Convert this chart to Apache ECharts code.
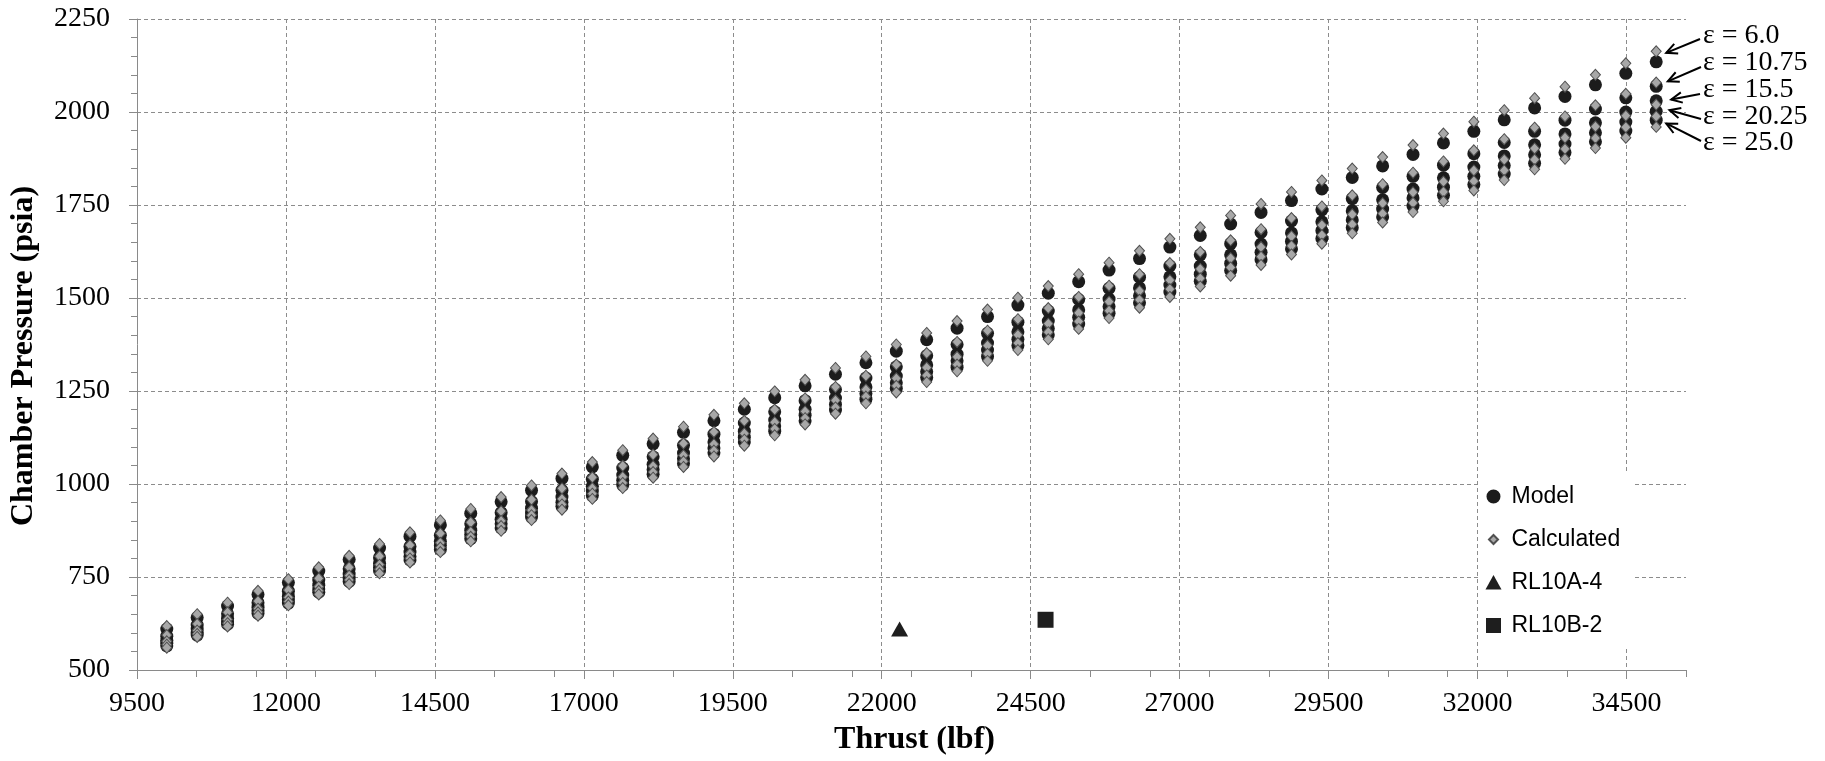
<!DOCTYPE html>
<html><head><meta charset="utf-8">
<script src="https://cdn.jsdelivr.net/npm/echarts@6/dist/echarts.min.js"></script>
<style>html,body{margin:0;padding:0;background:#fff}#c{width:1825px;height:761px}</style>
</head><body><div id="c"></div>
<script>
// Thrust (lbf) of each column of points
const thrust = [10000,10510,11020,11531,12041,12551,13061,13571,14082,14592,15102,15612,16122,16633,17143,17653,18163,18673,19184,19694,20204,20714,21224,21735,22245,22755,23265,23776,24286,24796,25306,25816,26327,26837,27347,27857,28367,28878,29388,29898,30408,30918,31429,31939,32449,32959,33469,33980,34490,35000];

// Model chamber pressure (psia), one array per expansion ratio
const model6  = [610,641,672,703,735,766,797,828,859,890,921,952,983,1015,1046,1077,1108,1139,1170,1201,1232,1264,1295,1326,1357,1388,1419,1450,1481,1513,1544,1575,1606,1637,1668,1699,1730,1762,1793,1824,1855,1886,1917,1948,1979,2011,2042,2073,2104,2135];
const model10 = [591,621,651,681,712,742,772,802,832,862,893,923,953,983,1013,1043,1073,1104,1134,1164,1194,1224,1254,1285,1315,1345,1375,1405,1435,1465,1496,1526,1556,1586,1616,1646,1676,1707,1737,1767,1797,1827,1857,1888,1918,1948,1978,2008,2038,2069];
const model15 = [580,610,639,669,698,728,758,787,817,846,876,905,935,965,994,1024,1053,1083,1113,1142,1172,1201,1231,1261,1290,1320,1349,1379,1409,1438,1468,1497,1527,1557,1586,1616,1645,1675,1705,1734,1764,1793,1823,1852,1882,1912,1941,1971,2000,2030];
const model20 = [572,601,630,660,689,718,747,776,805,835,864,893,922,951,981,1010,1039,1068,1097,1126,1156,1185,1214,1243,1272,1302,1331,1360,1389,1418,1448,1477,1506,1535,1564,1593,1623,1652,1681,1710,1739,1769,1798,1827,1856,1885,1914,1944,1973,2002];
const model25 = [565,594,623,652,680,709,738,767,796,824,853,882,911,940,969,997,1026,1055,1084,1113,1142,1170,1199,1228,1257,1286,1314,1343,1372,1401,1430,1459,1487,1516,1545,1574,1603,1632,1660,1689,1718,1747,1776,1805,1833,1862,1891,1920,1949,1978];

// Calculated chamber pressure (psia), one array per expansion ratio
const calc6  = [618,650,681,713,744,776,807,839,870,902,933,965,996,1028,1059,1091,1122,1154,1186,1217,1249,1280,1312,1343,1375,1406,1438,1469,1501,1532,1564,1595,1627,1659,1690,1722,1753,1785,1816,1848,1879,1911,1942,1974,2005,2037,2068,2100,2131,2163];
const calc10 = [594,624,655,685,715,746,776,806,836,867,897,927,958,988,1018,1049,1079,1109,1140,1170,1200,1230,1261,1291,1321,1352,1382,1412,1443,1473,1503,1533,1564,1594,1624,1655,1685,1715,1746,1776,1806,1837,1867,1897,1927,1958,1988,2018,2049,2079];
const calc15 = [577,606,636,665,695,724,754,783,813,842,871,901,930,960,989,1019,1048,1077,1107,1136,1166,1195,1225,1254,1284,1313,1342,1372,1401,1431,1460,1490,1519,1548,1578,1607,1637,1666,1696,1725,1755,1784,1813,1843,1872,1902,1931,1961,1990,2020];
const calc20 = [568,597,626,655,684,713,742,771,800,829,858,887,916,945,974,1003,1032,1061,1090,1119,1148,1177,1206,1235,1264,1292,1321,1350,1379,1408,1437,1466,1495,1524,1553,1582,1611,1640,1669,1698,1727,1756,1785,1814,1843,1872,1901,1930,1959,1988];
const calc25 = [560,589,617,646,674,703,731,760,789,817,846,874,903,931,960,989,1017,1046,1074,1103,1131,1160,1189,1217,1246,1274,1303,1331,1360,1389,1417,1446,1474,1503,1531,1560,1589,1617,1646,1674,1703,1731,1760,1789,1817,1846,1874,1903,1931,1960];

// Engine data points [thrust, chamber pressure]
const rl10a4 = [22300, 610];
const rl10b2 = [24750, 635];

// Axis ranges / steps
const xRange = [9500, 35500];
const xMajor = 2500;
const xMinor = 1000;
const yRange = [500, 2250];
const yMajor = 250;

const seriesNames = ['Model', 'Calculated', 'RL10A-4', 'RL10B-2'];
const epsLabels = ['\u03b5 = 6.0', '\u03b5 = 10.75', '\u03b5 = 15.5', '\u03b5 = 20.25', '\u03b5 = 25.0'];

const serif = 'Liberation Serif';
const sans = 'Liberation Sans';
const gridColor = '#8c8c8c';
const axisColor = '#8a8a8a';

const pairs = ys => thrust.map((x, i) => [x, ys[i]]);

const modelSets = [model6, model10, model15, model20, model25];
const calcSets = [calc6, calc10, calc15, calc20, calc25];

const series = [];
modelSets.forEach(arr => series.push({
  type: 'scatter', name: seriesNames[0], data: pairs(arr),
  symbol: 'circle', symbolSize: 13, z: 2,
  itemStyle: { color: '#1c1c1c', opacity: 1 }
}));
calcSets.forEach(arr => series.push({
  type: 'scatter', name: seriesNames[1], data: pairs(arr),
  symbol: 'diamond', symbolSize: [10, 11], z: 3,
  itemStyle: { color: '#a8a8a8', borderColor: '#505050', borderWidth: 1, opacity: 1 }
}));
series.push({ type: 'scatter', name: seriesNames[2], data: [rl10a4], symbol: 'triangle', symbolSize: [17, 15], z: 4,
  itemStyle: { color: '#1e1e1e', opacity: 1 } });
series.push({ type: 'scatter', name: seriesNames[3], data: [rl10b2], symbol: 'rect', symbolSize: 16, z: 4,
  itemStyle: { color: '#1e1e1e', opacity: 1 } });

const tickText = { fontFamily: serif, fontSize: 28, color: '#000' };

const chart = echarts.init(document.getElementById('c'), null, { renderer: 'canvas' });

chart.setOption({
  animation: false,
  backgroundColor: '#fff',
  textStyle: { fontFamily: serif },
  grid: { left: 137, right: 139, top: 19, bottom: 89, containLabel: false },
  legend: {
    orient: 'vertical', left: 1479, top: 472,
    backgroundColor: '#fff', padding: [13, 12, 10, 5],
    itemGap: 20, itemWidth: 26, itemHeight: 17,
    textStyle: { fontFamily: sans, fontSize: 23, color: '#000' },
    data: [
      { name: seriesNames[0], icon: 'path://M0,0M17,17M8.5,1.5A7,7,0,1,1,8.49,1.5Z' },
      { name: seriesNames[1], icon: 'path://M0,0M17,17M8.5,4L13,8.5L8.5,13L4,8.5Z' },
      { name: seriesNames[2], icon: 'path://M0,0M17,17M8.5,1L16.5,15.5L0.5,15.5Z' },
      { name: seriesNames[3], icon: 'path://M0,0M17,17M1,1L16,1L16,16L1,16Z' }
    ]
  },
  xAxis: [{
    type: 'value', min: xRange[0], max: xRange[1], interval: xMajor,
    name: 'Thrust (lbf)', nameLocation: 'middle', nameGap: 54,
    nameTextStyle: { fontFamily: serif, fontSize: 32, fontWeight: 'bold', color: '#000', padding: [0, 0, 0, 6] },
    axisLine: { show: true, onZero: false, lineStyle: { color: axisColor, width: 1 } },
    axisTick: { show: true, inside: false, length: 9, lineStyle: { color: axisColor } },
    axisLabel: { show: true, margin: 20, showMaxLabel: false, fontFamily: serif, fontSize: 28, color: '#000',
      formatter: v => '{t|' + v + '}', rich: { t: tickText } },
    splitLine: { show: true, showMinLine: false, showMaxLine: false, lineStyle: { color: gridColor, type: [4, 3], width: 1 } }
  }, {
    type: 'value', min: xRange[0], max: xRange[1], interval: xMinor, position: 'bottom', offset: 0,
    axisLine: { show: false }, axisLabel: { show: false }, splitLine: { show: false },
    axisTick: { show: true, inside: false, length: 7, lineStyle: { color: axisColor } }
  }],
  yAxis: {
    type: 'value', min: yRange[0], max: yRange[1], interval: yMajor,
    name: 'Chamber Pressure (psia)', nameLocation: 'middle', nameGap: 97,
    nameTextStyle: { fontFamily: serif, fontSize: 32, fontWeight: 'bold', color: '#000', padding: [0, 23, 0, 0] },
    axisLine: { show: true, onZero: false, lineStyle: { color: axisColor, width: 1 } },
    axisTick: { show: true, inside: false, length: 8, lineStyle: { color: axisColor } },
    minorTick: { show: true, splitNumber: 5, length: 6, lineStyle: { color: axisColor } },
    axisLabel: { margin: 27, fontFamily: serif, fontSize: 28, color: '#000',
      formatter: v => '{t|' + v + '}', rich: { t: tickText } },
    splitLine: { show: true, showMinLine: false, lineStyle: { color: gridColor, type: [4, 3], width: 1 } }
  },
  series: series
});

// epsilon annotations with arrows pointing at the last column of points
const labelX = 1703;
const labelY = [36, 63, 90, 117, 143];
const tails = [[1700, 39], [1701, 67], [1700, 94], [1701, 119], [1701, 141]];
const tipOff = [[10, 1.5], [11.6, -1.3], [15, -5], [13.3, -6.3], [10, -3.4]];
const g = [];
const last = thrust.length - 1;
calcSets.forEach((arr, i) => {
  const p = chart.convertToPixel({ xAxisIndex: 0, yAxisIndex: 0 }, [thrust[last], arr[last]]);
  const tip = [p[0] + tipOff[i][0], p[1] + tipOff[i][1]];
  const tail = tails[i];
  const dx = tail[0] - tip[0], dy = tail[1] - tip[1];
  const len = Math.hypot(dx, dy), ux = dx / len, uy = dy / len;
  const L = 12, th = 0.45;
  const rot = a => [tip[0] + L * (ux * Math.cos(a) - uy * Math.sin(a)), tip[1] + L * (ux * Math.sin(a) + uy * Math.cos(a))];
  g.push({ type: 'line', z: 100, shape: { x1: tail[0], y1: tail[1], x2: tip[0], y2: tip[1] }, style: { stroke: '#000', lineWidth: 2 } });
  g.push({ type: 'polyline', z: 100, shape: { points: [rot(th), tip, rot(-th)] }, style: { stroke: '#000', lineWidth: 2, fill: null } });
  g.push({ type: 'text', z: 100, x: labelX, y: labelY[i],
    style: { text: epsLabels[i], fontFamily: serif, fontSize: 28, fill: '#000', align: 'left', verticalAlign: 'middle', textAlign: 'left', textVerticalAlign: 'middle' } });
});
chart.setOption({ graphic: g });
</script>
</body></html>
